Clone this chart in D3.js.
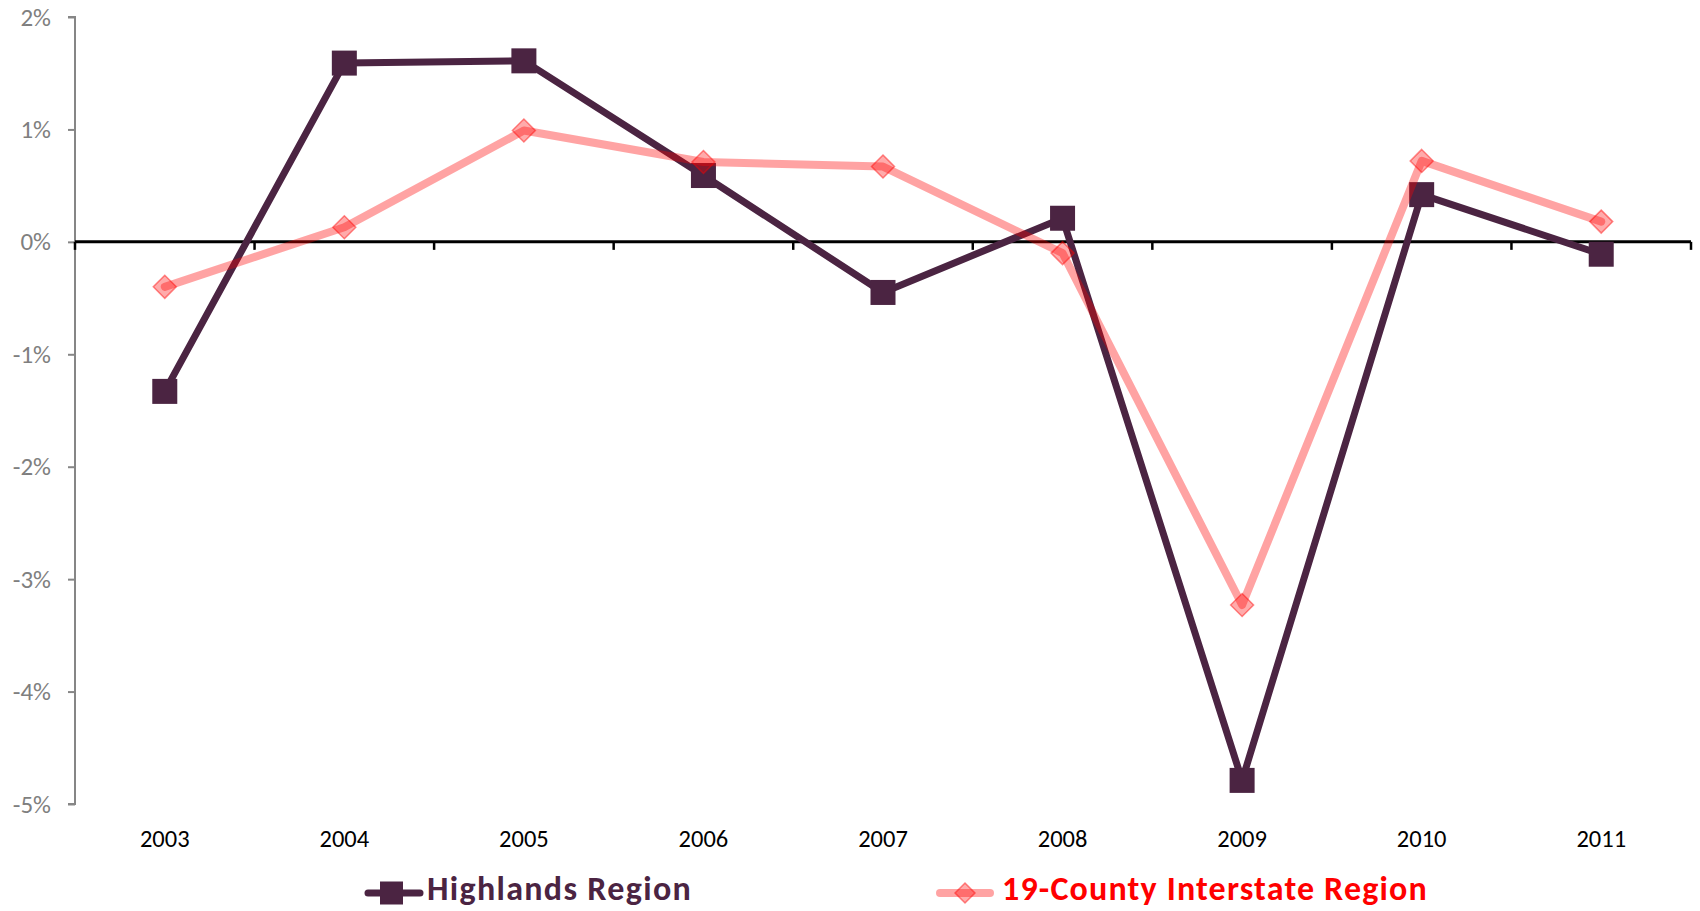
<!DOCTYPE html>
<html>
<head>
<meta charset="utf-8">
<script src="https://cdn.jsdelivr.net/npm/d3@7"></script>
<style>
  html, body { margin: 0; padding: 0; background: #ffffff; }
  svg { display: block; font-family: Carlito, Calibri, Lato, "Open Sans", sans-serif; }
</style>
</head>
<body>
<svg id="chart" width="1700" height="911"></svg>
<script>
// Annual change, percent
const years = ["2003", "2004", "2005", "2006", "2007", "2008", "2009", "2010", "2011"];
const highlands = [-1.33, 1.59, 1.61, 0.59, -0.45, 0.21, -4.79, 0.42, -0.11];
const interstate = [-0.40, 0.13, 0.99, 0.71, 0.67, -0.10, -3.23, 0.72, 0.18];
const yTicks = [2, 1, 0, -1, -2, -3, -4, -5];
const seriesNames = ["Highlands Region", "19-County Interstate Region"];

const svg = d3.select("#chart");
const plotLeft = 75, plotRight = 1691, plotTop = 17, plotBottom = 804;

const x = d3.scaleBand().domain(years).range([plotLeft, plotRight]).padding(0);
const y = d3.scaleLinear().domain([-5, 2]).range([plotBottom, plotTop]);
const cx = d => x(d) + x.bandwidth() / 2;

const dark = "#4b2442";
const pink = "rgba(255,0,0,0.36)";

// Vertical value axis
const yAxis = svg.append("g")
  .attr("transform", `translate(${plotLeft},0)`)
  .call(d3.axisLeft(y).tickValues(yTicks).tickSize(7).tickPadding(17)
    .tickFormat(d => d + "%"));
yAxis.select(".domain").attr("stroke", "#868686").attr("stroke-width", 2)
  .attr("d", `M-7,${plotTop}H0V${plotBottom}H-7`);
yAxis.selectAll(".tick line").attr("stroke", "#868686").attr("stroke-width", 2);
yAxis.selectAll(".tick text").attr("fill", "#7f7f7f").attr("font-size", 25)
  .attr("font-family", "Carlito, Calibri, Lato, sans-serif");

// Category axis along zero, ticks between categories
const boundaries = years.map(d => x(d)).concat([plotRight]);
const xAxisG = svg.append("g").attr("transform", `translate(0,${y(0)})`);
xAxisG.append("line").attr("x1", plotLeft).attr("x2", plotRight)
  .attr("stroke", "#000").attr("stroke-width", 3);
xAxisG.selectAll("line.tk").data(boundaries).enter().append("line")
  .attr("class", "tk")
  .attr("x1", d => d).attr("x2", d => d)
  .attr("y1", 0).attr("y2", 8)
  .attr("stroke", "#000").attr("stroke-width", 2.5);

// Year labels below the plot
svg.append("g").selectAll("text").data(years).enter().append("text")
  .attr("x", d => cx(d)).attr("y", 847)
  .attr("text-anchor", "middle").attr("font-size", 24.5).attr("fill", "#000")
  .text(d => d);

// Series lines
const line = d3.line().x(d => cx(d.year)).y(d => y(d.v));
const hData = years.map((yr, i) => ({ year: yr, v: highlands[i] }));
const iData = years.map((yr, i) => ({ year: yr, v: interstate[i] }));

svg.append("path").datum(hData).attr("d", line)
  .attr("fill", "none").attr("stroke", dark).attr("stroke-width", 7)
  .attr("stroke-linejoin", "round").attr("stroke-linecap", "round");
svg.append("g").selectAll("rect").data(hData).enter().append("rect")
  .attr("x", d => cx(d.year) - 12.5).attr("y", d => y(d.v) - 12.5)
  .attr("width", 25).attr("height", 25).attr("fill", dark);

svg.append("path").datum(iData).attr("d", line)
  .attr("fill", "none").attr("stroke", pink).attr("stroke-width", 8)
  .attr("stroke-linejoin", "round").attr("stroke-linecap", "round");
const diamond = s => `M0,${-s}L${s},0L0,${s}L${-s},0Z`;
svg.append("g").selectAll("path").data(iData).enter().append("path")
  .attr("transform", d => `translate(${cx(d.year)},${y(d.v)})`)
  .attr("d", diamond(11.5))
  .attr("fill", "rgba(255,0,0,0.33)")
  .attr("stroke", "rgba(255,0,0,0.45)").attr("stroke-width", 1.5);

// Legend
const legend = svg.append("g");
const ly = 893;
// Highlands entry
legend.append("line").attr("x1", 368).attr("x2", 420).attr("y1", ly).attr("y2", ly)
  .attr("stroke", dark).attr("stroke-width", 7).attr("stroke-linecap", "round");
legend.append("rect").attr("x", 380).attr("y", ly - 11.5).attr("width", 23).attr("height", 23)
  .attr("fill", dark);
const t1 = legend.append("text").attr("x", 427).attr("y", 900)
  .attr("font-weight", "bold").attr("fill", dark).attr("font-size", 34)
  .text(seriesNames[0]);
// Interstate entry
legend.append("line").attr("x1", 940).attr("x2", 990).attr("y1", ly).attr("y2", ly)
  .attr("stroke", pink).attr("stroke-width", 8).attr("stroke-linecap", "round");
legend.append("path").attr("transform", `translate(965,${ly})`).attr("d", diamond(10))
  .attr("fill", "rgba(255,0,0,0.33)")
  .attr("stroke", "rgba(255,0,0,0.45)").attr("stroke-width", 1.5);
const t2 = legend.append("text").attr("x", 1002).attr("y", 900)
  .attr("font-weight", "bold").attr("fill", "#ff0000").attr("font-size", 34)
  .text(seriesNames[1]);

// Spread legend text to fill its column width
[[t1, 265], [t2, 426]].forEach(([t, w]) => {
  const len = t.node().getComputedTextLength();
  const n = t.text().length;
  const ls = Math.max(0, (w - len) / n);
  t.attr("letter-spacing", ls.toFixed(2));
});
</script>
</body>
</html>
